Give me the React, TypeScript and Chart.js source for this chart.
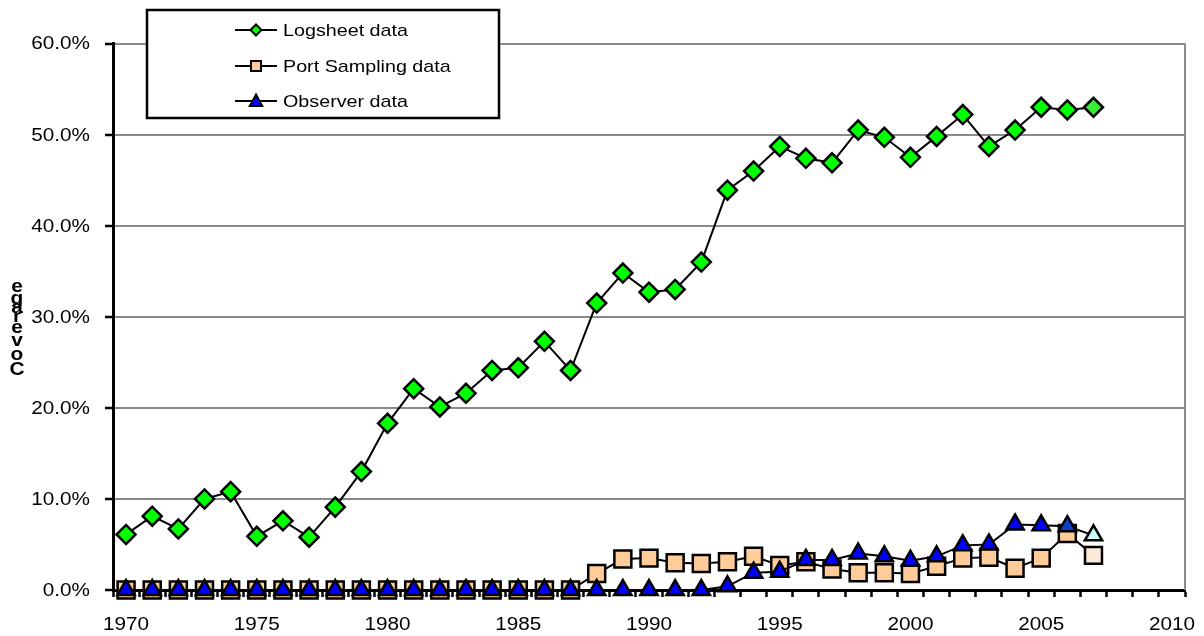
import { useEffect, useRef } from "react";
import { Chart, registerables } from "chart.js";

Chart.register(...registerables);

// Category axis: one slot per year
const years = [
  "1970", "1971", "1972", "1973", "1974", "1975", "1976", "1977", "1978", "1979",
  "1980", "1981", "1982", "1983", "1984", "1985", "1986", "1987", "1988", "1989",
  "1990", "1991", "1992", "1993", "1994", "1995", "1996", "1997", "1998", "1999",
  "2000", "2001", "2002", "2003", "2004", "2005", "2006", "2007", "2008", "2009",
  "2010",
];

// Labelled years on the x axis
const xTickLabels = ["1970", "1975", "1980", "1985", "1990", "1995", "2000", "2005", "2010"];

// Y axis values (percent) and their labels
const yTickValues = [0, 10, 20, 30, 40, 50, 60];
const yTickLabels = ["0.0%", "10.0%", "20.0%", "30.0%", "40.0%", "50.0%", "60.0%"];

// Coverage (%) by year, 1970-2007
const logsheet = [
  6.1, 8.1, 6.7, 10.0, 10.8, 5.9, 7.6, 5.8, 9.1, 13.0,
  18.3, 22.1, 20.1, 21.6, 24.1, 24.4, 27.3, 24.1, 31.5, 34.8,
  32.7, 33.0, 36.0, 43.9, 46.0, 48.7, 47.4, 46.9, 50.5, 49.7,
  47.5, 49.8, 52.2, 48.7, 50.5, 53.0, 52.7, 53.0,
];

const portSampling = [
  0, 0, 0, 0, 0, 0, 0, 0, 0, 0,
  0, 0, 0, 0, 0, 0, 0, 0, 1.8, 3.4,
  3.5, 3.0, 2.9, 3.1, 3.7, 2.7, 3.1, 2.3, 1.9, 1.9,
  1.8, 2.6, 3.5, 3.6, 2.4, 3.5, 6.2, 3.8,
];

const observer = [
  0, 0, 0, 0, 0, 0, 0, 0, 0, 0,
  0, 0, 0, 0, 0, 0, 0, 0, 0, 0,
  0, 0, 0, 0.4, 1.9, 2.0, 3.3, 3.3, 4.0, 3.7,
  3.2, 3.7, 4.9, 5.0, 7.2, 7.1, 7.0, 6.0,
];

const seriesNames = ["Logsheet data", "Port Sampling data", "Observer data"];
const yTitle = "Coverage";

const FONT = '"Liberation Sans", Arial, Helvetica, sans-serif';
const STRETCH = 1.15;

function drawText(
  ctx: CanvasRenderingContext2D,
  text: string,
  x: number,
  y: number,
  align: CanvasTextAlign,
  font: string,
  sx = STRETCH
) {
  ctx.save();
  ctx.font = font;
  ctx.fillStyle = "#000";
  ctx.textBaseline = "middle";
  ctx.textAlign = align;
  ctx.translate(x, y);
  ctx.scale(sx, 1);
  ctx.fillText(text, 0, 0);
  ctx.restore();
}

function markerPath(ctx: CanvasRenderingContext2D, style: string, x: number, y: number, r: number) {
  ctx.beginPath();
  if (style === "rectRot") {
    ctx.moveTo(x - r, y);
    ctx.lineTo(x, y - r);
    ctx.lineTo(x + r, y);
    ctx.lineTo(x, y + r);
  } else if (style === "rect") {
    ctx.rect(x - r, y - r, 2 * r, 2 * r);
  } else {
    ctx.moveTo(x, y - r);
    ctx.lineTo(x + r * 0.95, y + r * 0.75);
    ctx.lineTo(x - r * 0.95, y + r * 0.75);
  }
  ctx.closePath();
}

const decorations = {
  id: "coverageDecorations",
  afterDraw(chart: any) {
    const { ctx, chartArea, scales } = chart;
    const xs = scales.x;
    const ys = scales.y;

    // right frame edge
    ctx.save();
    ctx.strokeStyle = "#8a8a8a";
    ctx.lineWidth = 2;
    ctx.beginPath();
    ctx.moveTo(chartArea.right, chartArea.top);
    ctx.lineTo(chartArea.right, chartArea.bottom);
    ctx.stroke();
    ctx.restore();

    // y tick labels
    yTickValues.forEach((v, i) => {
      drawText(ctx, yTickLabels[i], 90, ys.getPixelForValue(v) + 1, "right", `18px ${FONT}`);
    });

    // x tick labels
    xTickLabels.forEach((lab) => {
      const idx = years.indexOf(lab);
      drawText(ctx, lab, xs.getPixelForValue(idx), 625, "center", `18px ${FONT}`);
    });

    // stacked axis title, read bottom to top
    const letterY = [370, 355, 341, 328, 317, 308, 299, 287];
    yTitle.split("").forEach((ch, i) => {
      drawText(ctx, ch, 17, letterY[i], "center", `bold 19px ${FONT}`, 1.1);
    });

    // legend box
    const lx = 147, ly = 10, lw = 352, lh = 108;
    ctx.save();
    ctx.fillStyle = "#fff";
    ctx.fillRect(lx, ly, lw, lh);
    ctx.strokeStyle = "#000";
    ctx.lineWidth = 2.5;
    ctx.strokeRect(lx, ly, lw, lh);
    ctx.restore();

    const rows = [30, 66, 101];
    const styles = ["rectRot", "rect", "triangle"];
    const fills = ["#00ff00", "#ffcc99", "#0000ff"];
    const sizes = [5.5, 5, 6.5];
    rows.forEach((ry, i) => {
      ctx.save();
      ctx.strokeStyle = "#000";
      ctx.lineWidth = 2;
      ctx.beginPath();
      ctx.moveTo(235, ry);
      ctx.lineTo(277, ry);
      ctx.stroke();
      markerPath(ctx, styles[i], 256, ry, sizes[i]);
      ctx.fillStyle = fills[i];
      ctx.fill();
      ctx.lineWidth = 2;
      ctx.stroke();
      ctx.restore();
      drawText(ctx, seriesNames[i], 283, ry + 1, "left", `17px ${FONT}`, 1.16);
    });
  },
};

export default function App() {
  const canvasRef = useRef<HTMLCanvasElement | null>(null);

  useEffect(() => {
    if (!canvasRef.current) return;
    const last = logsheet.length - 1;

    const chart = new Chart(canvasRef.current, {
      type: "line",
      data: {
        labels: years,
        datasets: [
          {
            label: seriesNames[2],
            data: observer,
            borderColor: "#000",
            borderWidth: 2,
            pointStyle: "triangle",
            pointRadius: 10,
            pointBorderWidth: 2.5,
            pointBorderColor: "#000",
            pointBackgroundColor: (c: any) =>
              c.dataIndex === last ? "#ccffff" : c.dataIndex === last - 1 ? "#0a40c8" : "#0000ff",
            clip: false,
            order: 0,
          },
          {
            label: seriesNames[1],
            data: portSampling,
            borderColor: "#000",
            borderWidth: 2,
            pointStyle: "rect",
            pointRadius: 12,
            pointBorderWidth: 2.5,
            pointBorderColor: "#000",
            pointBackgroundColor: (c: any) => (c.dataIndex === last ? "#fde9d9" : "#ffcc99"),
            clip: false,
            order: 1,
          },
          {
            label: seriesNames[0],
            data: logsheet,
            borderColor: "#000",
            borderWidth: 2,
            pointStyle: "rectRot",
            pointRadius: 9.5,
            pointBorderWidth: 2.5,
            pointBorderColor: "#000",
            pointBackgroundColor: (c: any) => (c.dataIndex === last ? "#33ee33" : "#00ff00"),
            clip: false,
            order: 2,
          },
        ],
      },
      options: {
        responsive: true,
        maintainAspectRatio: false,
        animation: false,
        events: [],
        layout: { padding: { left: 0, top: 43.5, right: 19, bottom: 0 } },
        plugins: {
          legend: { display: false },
          tooltip: { enabled: false },
          title: { display: false },
        },
        elements: { line: { tension: 0 } },
        scales: {
          x: {
            type: "category",
            offset: true,
            afterFit: (s: any) => {
              s.height = 46;
            },
            grid: {
              offset: true,
              drawOnChartArea: false,
              drawTicks: true,
              tickLength: 7,
              tickColor: "#000",
              tickWidth: 2.5,
              color: "#000",
            },
            border: { display: true, color: "#000", width: 3 },
            ticks: { display: false, autoSkip: false },
          },
          y: {
            min: 0,
            max: 60,
            afterFit: (s: any) => {
              s.width = 113;
            },
            ticks: { display: false, stepSize: 10 },
            grid: {
              color: (c: any) => (c.tick && c.tick.value === 0 ? "#000" : "#8a8a8a"),
              lineWidth: 2,
              drawTicks: true,
              tickLength: 8,
              tickColor: "#000",
              tickWidth: 2.5,
            },
            border: { display: true, color: "#000", width: 3 },
          },
        },
      },
      plugins: [decorations],
    });

    return () => chart.destroy();
  }, []);

  return (
    <div style={{ position: "fixed", left: 0, top: 0, width: 1204, height: 636, background: "#fff" }}>
      <canvas ref={canvasRef} />
    </div>
  );
}
